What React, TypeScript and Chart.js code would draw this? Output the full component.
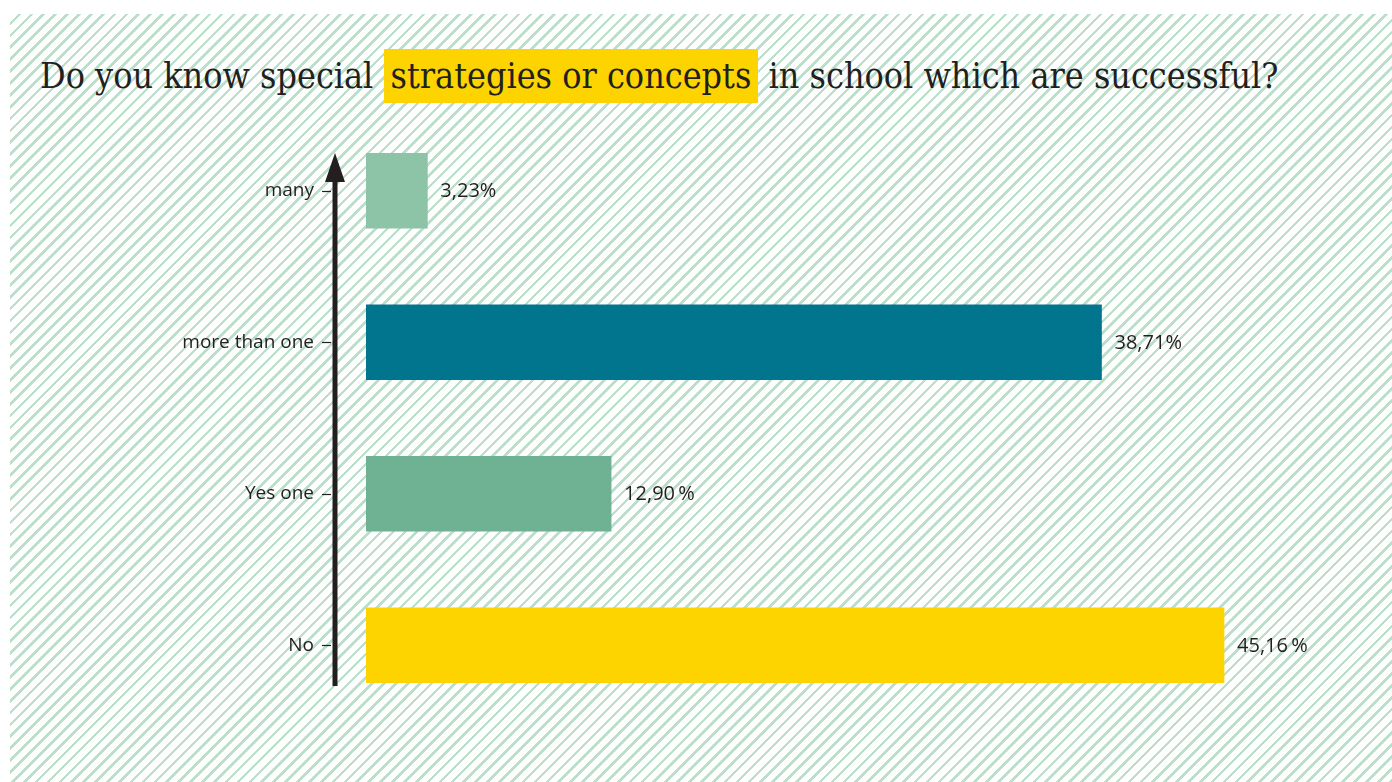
import React, { useEffect, useRef } from "react";
import { Chart, registerables } from "chart.js";

Chart.register(...registerables);

const categories = ["many", "more than one", "Yes one", "No"];
const values = [3.23, 38.71, 12.9, 45.16];
const valueLabels = ["3,23%", "38,71%", "12,90\u2009%", "45,16\u2009%"];
const barColors = ["#8dc3a7", "#00758d", "#6fb293", "#fdd400"];
const titleBefore = "Do you know special ";
const titleHighlight = "strategies or concepts";
const titleAfter = " in school which are successful?";

const LABEL_FONT = "'Open Sans', 'Noto Sans', sans-serif";

const decorPlugin = {
  id: "decor",
  afterDatasetsDraw(chart: any) {
    const { ctx, chartArea, scales } = chart;
    const yScale = scales.y;
    const xScale = scales.x;
    const axisX = chartArea.left - 31;
    ctx.save();
    // arrow shaft
    ctx.fillStyle = "#231f20";
    ctx.fillRect(axisX - 2.5, 180, 5, 686 - 180);
    // arrow head
    ctx.beginPath();
    ctx.moveTo(axisX, 153);
    ctx.lineTo(axisX + 10, 182);
    ctx.lineTo(axisX - 10, 182);
    ctx.closePath();
    ctx.fill();
    // tick dashes
    ctx.strokeStyle = "#231f20";
    ctx.lineWidth = 1.2;
    categories.forEach((_, i) => {
      const y = Math.round(yScale.getPixelForValue(i)) + 0.5;
      ctx.beginPath();
      ctx.moveTo(axisX - 13, y);
      ctx.lineTo(axisX - 4, y);
      ctx.stroke();
    });
    // value labels
    ctx.fillStyle = "#231f20";
    ctx.font = `20px ${LABEL_FONT}`;
    ctx.textAlign = "left";
    ctx.textBaseline = "middle";
    const meta = chart.getDatasetMeta(0);
    meta.data.forEach((bar: any, i: number) => {
      const x = xScale.getPixelForValue(values[i]) + 13;
      ctx.fillText(valueLabels[i], x, bar.y + 1);
    });
    ctx.restore();
  },
};

function BarChart() {
  const ref = useRef<HTMLCanvasElement | null>(null);
  useEffect(() => {
    if (!ref.current) return;
    const chart = new Chart(ref.current, {
      type: "bar",
      data: {
        labels: categories,
        datasets: [
          {
            data: values,
            backgroundColor: barColors,
            borderWidth: 0,
            barThickness: 75,
          },
        ],
      },
      options: {
        indexAxis: "y",
        animation: false,
        responsive: false,
        maintainAspectRatio: false,
        layout: { padding: { left: 0, right: 76, top: 115, bottom: 61 } },
        plugins: {
          legend: { display: false },
          tooltip: { enabled: false },
          title: { display: false },
        },
        scales: {
          x: {
            display: false,
            min: 0,
            max: 50,
          },
          y: {
            afterFit: (scale: any) => {
              scale.width = 366;
            },
            grid: { display: false },
            border: { display: false },
            ticks: {
              padding: 44,
              color: "#231f20",
              font: { family: LABEL_FONT, size: 19 },
            },
          },
        },
      },
      plugins: [decorPlugin],
    });
    return () => chart.destroy();
  }, []);
  return (
    <canvas
      ref={ref}
      width={1392}
      height={782}
      style={{ position: "absolute", left: 0, top: 0, width: 1392, height: 782 }}
    />
  );
}

export default function App() {
  return (
    <div
      style={{
        position: "fixed",
        left: 0,
        top: 0,
        width: 1392,
        height: 782,
        background: "#ffffff",
        overflow: "hidden",
      }}
    >
      <div
        style={{
          position: "absolute",
          left: 10,
          top: 14,
          width: 1382,
          height: 768,
          backgroundImage:
            "repeating-linear-gradient(135deg, #ffffff 0px, #ffffff 5.8px, #bcdfcc 5.8px, #bcdfcc 8.4px)",
        }}
      />
      <div
        style={{
          position: "absolute",
          left: 40,
          top: 48,
          fontFamily: "'DejaVu Serif Condensed', 'DejaVu Serif', serif",
          fontSize: 35.6,
          lineHeight: "56px",
          color: "#231f20",
          whiteSpace: "nowrap",
        }}
      >
        {titleBefore}
        <span style={{ background: "#fdd400", padding: "6px 7px 7px 7px" }}>{titleHighlight}</span>
        {titleAfter}
      </div>
      <BarChart />
    </div>
  );
}
